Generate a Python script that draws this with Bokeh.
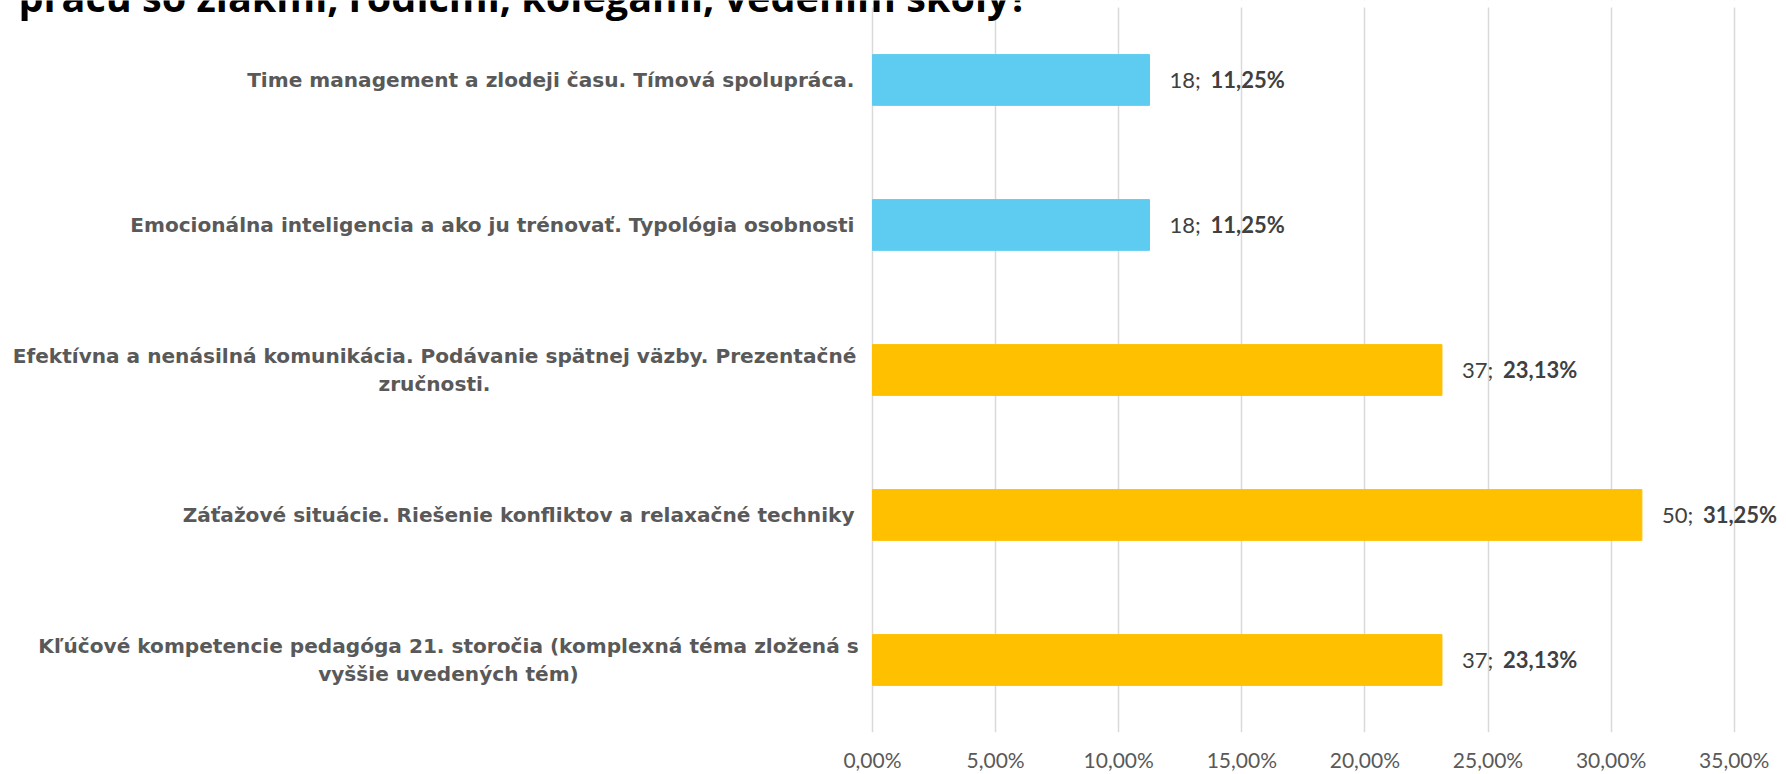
from bokeh.plotting import figure
from bokeh.models import Range1d, FixedTicker, Label, ColumnDataSource, BoxAnnotation
from bokeh.embed import file_html
from bokeh.resources import INLINE

# ---- data (bottom to top) ----
categories = [
    "Kľúčové kompetencie pedagóga 21. storočia (komplexná téma zložená s\nvyššie uvedených tém)",
    "Záťažové situácie. Riešenie konfliktov a relaxačné techniky",
    "Efektívna a nenásilná komunikácia. Podávanie spätnej väzby. Prezentačné\nzručnosti.",
    "Emocionálna inteligencia a ako ju trénovať. Typológia osobnosti",
    "Time management a zlodeji času. Tímová spolupráca.",
]
counts = [37, 50, 37, 18, 18]
percents = [23.13, 31.25, 23.13, 11.25, 11.25]
pct_labels = ["23,13%", "31,25%", "23,13%", "11,25%", "11,25%"]
bar_colors = ["#FFC000", "#FFC000", "#FFC000", "#5ECCF0", "#5ECCF0"]
tick_values = [0, 5, 10, 15, 20, 25, 30, 35]
tick_labels = ["0,00%", "5,00%", "10,00%", "15,00%", "20,00%", "25,00%", "30,00%", "35,00%"]
title_text = "prácu so žiakmi, rodičmi, kolegami, vedením školy?"

FONT = "Lato"
CAT_FONT = "DejaVu Sans"

# ---- layout (pixels) ----
W, H = 1786, 774
AXIS_H = 41
X0_PX, X35_PX = 872, 1733.7          # where 0 % and 35 % fall
PLOT_TOP_PX = 7                       # top of the category area
px_per_unit = (X35_PX - X0_PX) / 35
frame_h = H - AXIS_H
band_px = (frame_h - PLOT_TOP_PX) / len(categories)
x_start = -X0_PX / px_per_unit
x_end = (W - X0_PX) / px_per_unit
y_end = len(categories) + PLOT_TOP_PX / band_px

ypos = [i + 0.5 for i in range(len(categories))]
src = ColumnDataSource(dict(y=ypos, pct=percents, color=bar_colors))

p = figure(width=W, height=H, output_backend="svg", toolbar_location=None,
           y_range=Range1d(0, y_end), x_range=Range1d(x_start, x_end),
           min_border_left=0, min_border_right=0, min_border_top=0,
           min_border_bottom=AXIS_H)
p.outline_line_color = None
p.background_fill_color = "white"
p.border_fill_color = "white"

p.hbar(y="y", right="pct", height=0.35, left=0, color="color", source=src)

p.yaxis.visible = False
p.ygrid.grid_line_color = None
p.xgrid.grid_line_color = "#D9D9D9"
p.xgrid.grid_line_width = 1.5
p.xaxis.ticker = FixedTicker(ticks=tick_values)
p.xaxis.major_label_overrides = {v: l for v, l in zip(tick_values, tick_labels)}
p.xaxis.axis_line_color = None
p.xaxis.major_tick_line_color = None
p.xaxis.minor_tick_line_color = None
p.xaxis.major_tick_out = 0
p.xaxis.major_tick_in = 0
p.xaxis.major_label_standoff = 14
p.xaxis.major_label_text_font = FONT
p.xaxis.major_label_text_font_size = "21px"
p.xaxis.major_label_text_color = "#595959"

# blank strip above the category area (gridlines start below the title)
p.add_layout(BoxAnnotation(bottom=len(categories), fill_color="white", fill_alpha=1,
                           line_color=None))

for yv, c, n, pct, pl in zip(ypos, categories, counts, percents, pct_labels):
    # data labels
    p.add_layout(Label(x=pct, y=yv, x_offset=20, text=f"{n};",
                       text_baseline="middle", text_font=FONT, text_font_size="22px",
                       text_color="#404040"))
    p.add_layout(Label(x=pct, y=yv, x_offset=61, text=pl,
                       text_baseline="middle", text_font=FONT, text_font_size="22px",
                       text_font_style="bold", text_color="#404040"))
    # category labels
    if "\n" in c:
        xo = -424 if c.startswith("K") else -438
        align = "center"
    else:
        xo = -18
        align = "right"
    p.add_layout(Label(x=0, x_offset=xo, y=yv, text=c, text_align=align,
                       text_baseline="middle", text_font=CAT_FONT, text_font_size="20.1px",
                       text_font_style="bold", text_color="#595959", text_line_height=1.15))

# title (cut off at the top edge in the reference)
p.add_layout(Label(x=0, x_offset=18 - X0_PX, y=y_end - 12.7 / band_px, y_offset=16,
                   text=title_text, text_baseline="alphabetic", text_font="Open Sans",
                   text_font_size="39.6px", text_font_style="bold", text_color="black"))

open("out.html", "w").write(file_html(p, INLINE))
